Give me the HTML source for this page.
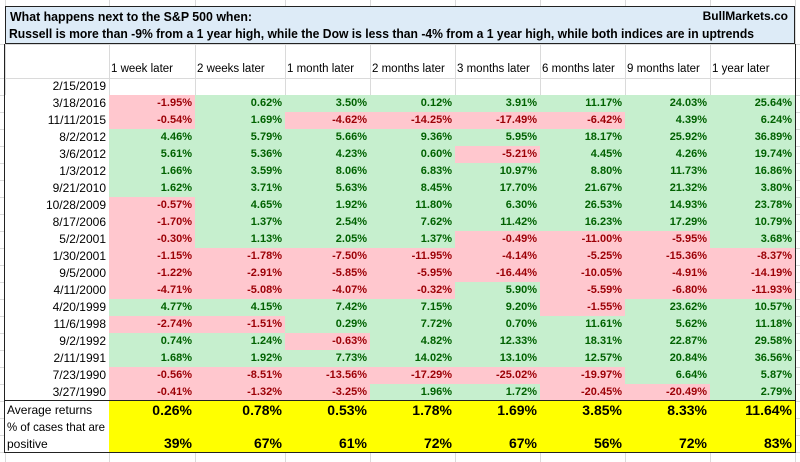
<!DOCTYPE html>
<html><head><meta charset="utf-8"><style>
body{margin:0;width:800px;height:462px;background:#fff;position:relative;overflow:hidden;font-family:"Liberation Sans",sans-serif;}
.c{position:absolute;box-sizing:border-box;font-size:11px;line-height:17px;white-space:nowrap;}
.g{position:absolute;background:#dadada;}
.r{text-align:right;padding-right:3px;}
.fit{position:absolute;white-space:nowrap;transform-origin:0 0;}
</style></head><body>
<div id="root"></div>
<script>
const columns=["1 week later","2 weeks later","1 month later","2 months later","3 months later","6 months later","9 months later","1 year later"];
const dates=["3/18/2016","11/11/2015","8/2/2012","3/6/2012","1/3/2012","9/21/2010","10/28/2009","8/17/2006","5/2/2001","1/30/2001","9/5/2000","4/11/2000","4/20/1999","11/6/1998","9/2/1992","2/11/1991","7/23/1990","3/27/1990"];
const values=[
[-1.95,0.62,3.50,0.12,3.91,11.17,24.03,25.64],
[-0.54,1.69,-4.62,-14.25,-17.49,-6.42,4.39,6.24],
[4.46,5.79,5.66,9.36,5.95,18.17,25.92,36.89],
[5.61,5.36,4.23,0.60,-5.21,4.45,4.26,19.74],
[1.66,3.59,8.06,6.83,10.97,8.80,11.73,16.86],
[1.62,3.71,5.63,8.45,17.70,21.67,21.32,3.80],
[-0.57,4.65,1.92,11.80,6.30,26.53,14.93,23.78],
[-1.70,1.37,2.54,7.62,11.42,16.23,17.29,10.79],
[-0.30,1.13,2.05,1.37,-0.49,-11.00,-5.95,3.68],
[-1.15,-1.78,-7.50,-11.95,-4.14,-5.25,-15.36,-8.37],
[-1.22,-2.91,-5.85,-5.95,-16.44,-10.05,-4.91,-14.19],
[-4.71,-5.08,-4.07,-0.32,5.90,-5.59,-6.80,-11.93],
[4.77,4.15,7.42,7.15,9.20,-1.55,23.62,10.57],
[-2.74,-1.51,0.29,7.72,0.70,11.61,5.62,11.18],
[0.74,1.24,-0.63,4.82,12.33,18.31,22.87,29.58],
[1.68,1.92,7.73,14.02,13.10,12.57,20.84,36.56],
[-0.56,-8.51,-13.56,-17.29,-25.02,-19.97,6.64,5.87],
[-0.41,-1.32,-3.25,1.96,1.72,-20.45,-20.49,2.79]];
const averages=[0.26,0.78,0.53,1.78,1.69,3.85,8.33,11.64];
const positivePct=[39,67,61,72,67,56,72,83];

const root=document.getElementById('root');
const colX=[5,109,195,285,370,455,540,625,710,795];
function add(cls,x,y,w,h,txt,style){const d=document.createElement('div');d.className=cls;d.style.left=x+'px';d.style.top=y+'px';d.style.width=w+'px';d.style.height=h+'px';if(txt!==undefined)d.textContent=txt;if(style)d.style.cssText+=style;root.appendChild(d);return d;}
for(let i=0;i<colX.length;i++){const g=add('g',colX[i],0,1,462);}
[44,78,95].forEach(y=>{const g=add('g',0,y,800,1);});
for(let r=0;r<=21;r++){const g=add('g',0,95+r*17,800,1);}
const t=add('c',5,6,790,38,undefined,'background:#ddebf7;border:1px solid #222;font-weight:bold;font-size:13px;');

t.innerHTML='<div class="fit" id="t1" style="left:4px;top:1px">What happens next to the S&amp;P 500 when:</div><div style="position:absolute;right:6px;top:1px;font-size:12px">BullMarkets.co</div><div class="fit" id="t2" style="left:3px;top:18px">Russell is more than -9% from a 1 year high, while the Dow is less than -4% from a 1 year high, while both indices are in uptrends</div>';
function fit(id,w){const e=document.getElementById(id);const s=w/e.getBoundingClientRect().width;e.style.transform='scaleX('+s+')';}
fit('t1',242);fit('t2',745);
const f=add('c',4,44,792,409,undefined,'border:1px solid #222;border-top:none;');

columns.forEach((c,i)=>{const d=add('c',colX[i+1]+2,61,colX[i+2]-colX[i+1],17,c,'font-size:11.5px;');});
const d0=add('c r',5,78,104,17,'2/15/2019','font-size:12px');
dates.forEach((dt,r)=>{
 const y=95+r*17;
 const dl=add('c r',5,y,104,17,dt,'font-size:12px;background:#fff');
 values[r].forEach((v,i)=>{
  const neg=v<0;
  const cell=add('c r',colX[i+1],y,colX[i+2]-colX[i+1],17,v.toFixed(2)+'%','font-weight:bold;background:'+(neg?'#ffc7ce':'#c6efce')+';color:'+(neg?'#9c0006':'#006100'));
  
 });
});
const wb=add('c',5,401,104,52,undefined,'background:#fff;');
const yb=add('c',colX[1],401,795-colX[1],52,undefined,'background:#ffff00;');
const sb=add('c',4,400,792,53,undefined,'border:1px solid #222;');
const l1=add('c',7,402,100,17,'Average returns','font-size:12px;');
const l2=add('c',7,419,102,34,undefined,'font-size:12px;line-height:17px;');l2.innerHTML='<span class="fit" id="l2a" style="left:0;top:0">% of cases that are</span><span style="position:absolute;left:0;top:17px">positive</span>';
fit('l2a',98);
averages.forEach((v,i)=>{const c=add('c r',colX[i+1],401,colX[i+2]-colX[i+1],19,v.toFixed(2)+'%','font-weight:bold;font-size:14px;line-height:19px');});
positivePct.forEach((v,i)=>{const c=add('c r',colX[i+1],434,colX[i+2]-colX[i+1],19,v+'%','font-weight:bold;font-size:14px;line-height:19px');});
</script>
</body></html>
